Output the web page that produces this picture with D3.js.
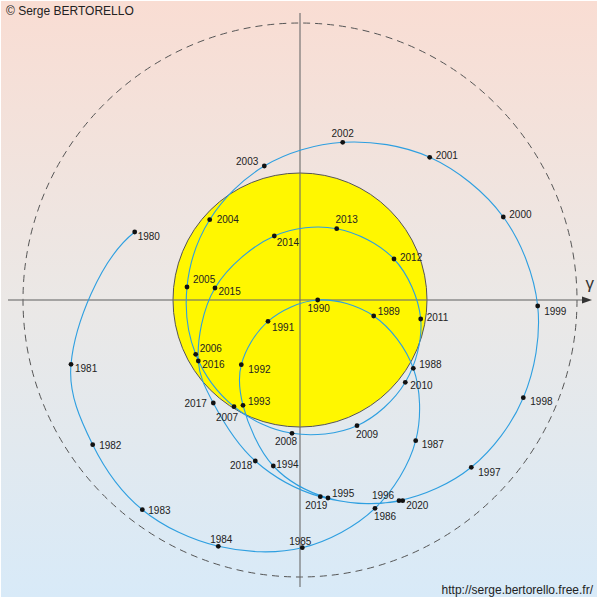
<!DOCTYPE html>
<html>
<head>
<meta charset="utf-8">
<script src="https://cdn.jsdelivr.net/npm/d3@7"></script>
<style>
  html, body { margin: 0; padding: 0; background: #fff; }
  svg { display: block; }
  text { font-family: "Liberation Sans", Arial, sans-serif; }
</style>
</head>
<body>
<svg id="chart" width="600" height="600"></svg>
<script>
// ---- data (abstract plane units, origin at axis crossing) ----
const years = [1980,1981,1982,1983,1984,1985,1986,1987,1988,1989,
               1990,1991,1992,1993,1994,1995,1996,1997,1998,1999,
               2000,2001,2002,2003,2004,2005,2006,2007,2008,2009,
               2010,2011,2012,2013,2014,2015,2016,2017,2018,2019,2020];
const xValues = [-1.653,-2.290,-2.073,-1.577,-0.817, 0.023, 0.750, 1.157, 1.133, 0.737,
                  0.177,-0.320,-0.587,-0.570,-0.267, 0.280, 0.990, 1.713, 2.233, 2.377,
                  2.033, 1.297, 0.427,-0.357,-0.903,-1.130,-1.043,-0.660,-0.080, 0.570,
                  1.053, 1.207, 0.940, 0.367,-0.257,-0.850,-1.017,-0.867,-0.447, 0.203, 1.027];
const yValues = [ 0.680,-0.643,-1.447,-2.097,-2.463,-2.477,-2.083,-1.407,-0.683,-0.160,
                  0.000,-0.213,-0.647,-1.053,-1.660,-1.980,-2.007,-1.673,-0.977,-0.060,
                  0.830, 1.427, 1.577, 1.340, 0.803, 0.130,-0.543,-1.067,-1.333,-1.257,
                 -0.823,-0.190, 0.410, 0.713, 0.640, 0.120,-0.610,-1.030,-1.610,-1.967,-2.007];
const sunRadius = 1.27;     // yellow disc
const limitRadius = 2.77;   // dashed circle
const axisLabel = "γ";
const copyright = "© Serge BERTORELLO";
const url = "http://serge.bertorello.free.fr/";

// ---- layout ----
const svg = d3.select("#chart");
const x = d3.scaleLinear().domain([-3, 3]).range([0, 600]);
const y = d3.scaleLinear().domain([-3, 3]).range([600, 0]);
const rs = d3.scaleLinear().domain([0, 1]).range([0, 100]);

// label placement per year: [anchor, dx, dy(center)]
const labelPlace = {
  1980:["start",3,4],1981:["start",4,4.5],1982:["start",6.5,0.5],1983:["start",6,0.5],
  1984:["middle",3,-7],1985:["middle",-2,-6.5],1986:["middle",10,8],1987:["start",6,4],
  1988:["start",6,-4],1989:["start",4,-5],1990:["middle",1,8],1991:["start",4,6],
  1992:["start",7,5],1993:["start",5,-4],1994:["start",3,-2],1995:["start",4,-5],
  1996:["middle",-16,-5.5],1997:["start",7,5],1998:["start",7,4],1999:["start",6.5,5],
  2000:["start",6,-3],2001:["start",6,-1.5],2002:["middle",0,-9],2003:["end",-6,-4.5],
  2004:["start",7,-0.5],2005:["start",6,-8],2006:["start",4,-6],2007:["middle",-7,10.5],
  2008:["middle",-6,8],2009:["middle",10,9],2010:["start",5,3],2011:["start",6,-1.5],
  2012:["start",6,-1.5],2013:["middle",10,-9],2014:["start",2.5,6.5],2015:["start",3.5,3.5],
  2016:["start",4,3],2017:["end",-6.5,0.5],2018:["end",-3,4],2019:["middle",-4,8.5],
  2020:["start",3.5,4.5]
};

// background gradient
const defs = svg.append("defs");
const grad = defs.append("linearGradient").attr("id","bg").attr("x1",0).attr("y1",0).attr("x2",0).attr("y2",1);
grad.append("stop").attr("offset","0%").attr("stop-color","#f9ddd3");
grad.append("stop").attr("offset","50%").attr("stop-color","#ebe8e6");
grad.append("stop").attr("offset","100%").attr("stop-color","#d8eaf8");
svg.append("rect").attr("x",1).attr("y",1).attr("width",596).attr("height",596).attr("fill","url(#bg)");

// dashed limit circle
svg.append("circle").attr("cx", x(0)).attr("cy", y(0)).attr("r", rs(limitRadius))
  .attr("fill","none").attr("stroke","#555").attr("stroke-width",1).attr("stroke-dasharray","7,5");

// yellow disc
svg.append("circle").attr("cx", x(0)).attr("cy", y(0)).attr("r", rs(sunRadius))
  .attr("fill","#fff700").attr("stroke","#555").attr("stroke-width",1);

// axes
const axisG = svg.append("g").attr("stroke","#6e6e6e").attr("stroke-opacity",0.75).attr("stroke-width",1.5);
axisG.append("line").attr("x1", x(-2.92)).attr("x2", x(2.86)).attr("y1", y(0)).attr("y2", y(0));
axisG.append("line").attr("x1", x(0)).attr("x2", x(0)).attr("y1", y(2.87)).attr("y2", y(-2.87));
svg.append("path")
  .attr("d", `M${x(2.92)},${y(0)} L${x(2.82)},${y(0)-3.5} L${x(2.82)},${y(0)+3.5} Z`)
  .attr("fill","#333");
svg.append("text").attr("x", x(2.855)).attr("y", y(0)-11).attr("font-size",17)
  .attr("fill","#333").text(axisLabel);

// curve: centripetal Catmull-Rom through the yearly points (screen space),
// with end tangents continued along the circle through the 3 end points
const pts = years.map((yr,i)=>({year:yr, x:xValues[i], y:yValues[i]}));
const P = pts.map(d => [x(d.x), y(d.y)]);

function ghost(a, b, c) {
  // circle through a,b,c ; return point one step (a->b angle) before a
  const ax=a[0], ay=a[1], bx=b[0], by=b[1], cx=c[0], cy=c[1];
  const dd = 2*(ax*(by-cy) + bx*(cy-ay) + cx*(ay-by));
  if (Math.abs(dd) < 1e-9) return [2*ax-bx, 2*ay-by];
  const ux = ((ax*ax+ay*ay)*(by-cy) + (bx*bx+by*by)*(cy-ay) + (cx*cx+cy*cy)*(ay-by))/dd;
  const uy = ((ax*ax+ay*ay)*(cx-bx) + (bx*bx+by*by)*(ax-cx) + (cx*cx+cy*cy)*(bx-ax))/dd;
  const r = Math.hypot(ax-ux, ay-uy);
  const ta = Math.atan2(ay-uy, ax-ux), tb = Math.atan2(by-uy, bx-ux);
  let step = tb - ta;
  while (step > Math.PI) step -= 2*Math.PI;
  while (step < -Math.PI) step += 2*Math.PI;
  const tg = ta - step;
  return [ux + r*Math.cos(tg), uy + r*Math.sin(tg)];
}
const n = P.length;
const ext = [ghost(P[0], P[1], P[2]), ...P, ghost(P[n-1], P[n-2], P[n-3])];
const alpha = 0.5;
const path = d3.path();
path.moveTo(P[0][0], P[0][1]);
for (let i = 1; i < ext.length - 2; i++) {
  const p0 = ext[i-1], p1 = ext[i], p2 = ext[i+1], p3 = ext[i+2];
  const l01 = Math.hypot(p1[0]-p0[0], p1[1]-p0[1]);
  const l12 = Math.hypot(p2[0]-p1[0], p2[1]-p1[1]);
  const l23 = Math.hypot(p3[0]-p2[0], p3[1]-p2[1]);
  const l01a = Math.pow(l01, alpha), l01_2a = Math.pow(l01, 2*alpha);
  const l12a = Math.pow(l12, alpha), l12_2a = Math.pow(l12, 2*alpha);
  const l23a = Math.pow(l23, alpha), l23_2a = Math.pow(l23, 2*alpha);
  const a = 2*l01_2a + 3*l01a*l12a + l12_2a, na = 3*l01a*(l01a + l12a);
  const c1x = (p1[0]*a - p0[0]*l12_2a + p2[0]*l01_2a)/na;
  const c1y = (p1[1]*a - p0[1]*l12_2a + p2[1]*l01_2a)/na;
  const b = 2*l23_2a + 3*l23a*l12a + l12_2a, mb = 3*l23a*(l23a + l12a);
  const c2x = (p2[0]*b + p1[0]*l23_2a - p3[0]*l12_2a)/mb;
  const c2y = (p2[1]*b + p1[1]*l23_2a - p3[1]*l12_2a)/mb;
  path.bezierCurveTo(c1x, c1y, c2x, c2y, p2[0], p2[1]);
}
svg.append("path").attr("d", path.toString())
  .attr("fill","none").attr("stroke","#2e9fe0").attr("stroke-width",1.1);

// dots
svg.append("g").selectAll("circle").data(pts).join("circle")
  .attr("cx", d=>x(d.x)).attr("cy", d=>y(d.y)).attr("r",2.4).attr("fill","#111");

// labels
svg.append("g").selectAll("text").data(pts).join("text")
  .attr("x", d=>x(d.x) + labelPlace[d.year][1])
  .attr("y", d=>y(d.y) + labelPlace[d.year][2] + 3.6)
  .attr("text-anchor", d=>labelPlace[d.year][0])
  .attr("font-size",10).attr("fill","#222")
  .text(d=>d.year);

// credits
svg.append("text").attr("x",6).attr("y",15).attr("font-size",12).attr("fill","#222").text(copyright);
svg.append("text").attr("x",593).attr("y",594).attr("text-anchor","end").attr("font-size",12).attr("fill","#222").text(url);
</script>
</body>
</html>
